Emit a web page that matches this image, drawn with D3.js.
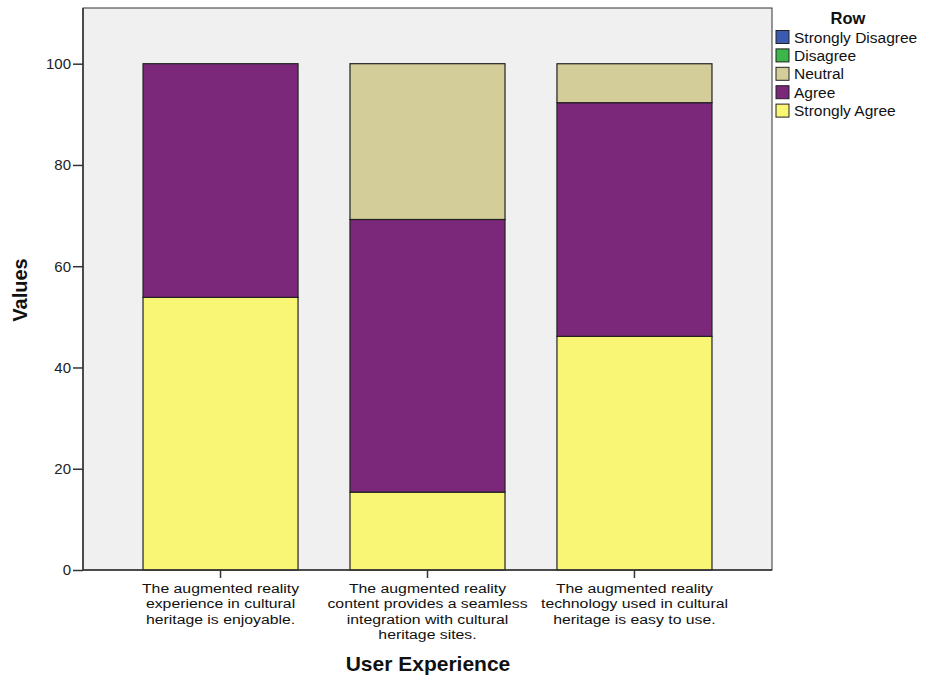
<!DOCTYPE html>
<html>
<head>
<meta charset="utf-8">
<script src="https://cdn.jsdelivr.net/npm/d3@7"></script>
<style>
  body { margin: 0; background: #fff; }
  text { font-family: "Liberation Sans", Arial, sans-serif; }
</style>
</head>
<body>
<svg id="chart" width="925" height="677"></svg>
<script>
// Item statements (x axis), each split into display lines
const categories = [
  "The augmented reality experience in cultural heritage is enjoyable.",
  "The augmented reality content provides a seamless integration with cultural heritage sites.",
  "The augmented reality technology used in cultural heritage is easy to use."
];
const categoryLines = [
  ["The augmented reality", "experience in cultural", "heritage is enjoyable."],
  ["The augmented reality", "content provides a seamless", "integration with cultural", "heritage sites."],
  ["The augmented reality", "technology used in cultural", "heritage is easy to use."]
];
// Response levels, stacked bottom-up as Strongly Agree, Agree, Neutral, Disagree, Strongly Disagree
const levels = ["Strongly Disagree", "Disagree", "Neutral", "Agree", "Strongly Agree"];
const levelColors = ["#3A5BB0", "#3CB54A", "#D3CE99", "#7B287B", "#F9F575"];
// Percentages per level for each item
const stronglyDisagree = [0, 0, 0];
const disagree = [0, 0, 0];
const neutral = [0, 30.77, 7.69];
const agree = [46.15, 53.85, 46.15];
const stronglyAgree = [53.85, 15.38, 46.15];
const yTicks = [0, 20, 40, 60, 80, 100];

const seriesByLevel = {
  "Strongly Disagree": stronglyDisagree,
  "Disagree": disagree,
  "Neutral": neutral,
  "Agree": agree,
  "Strongly Agree": stronglyAgree
};
const stackOrder = ["Strongly Agree", "Agree", "Neutral", "Disagree", "Strongly Disagree"];
const table = categories.map((c, i) => {
  const row = { category: c };
  levels.forEach(l => row[l] = seriesByLevel[l][i]);
  return row;
});
const stacked = d3.stack().keys(stackOrder)(table);
const color = d3.scaleOrdinal().domain(levels).range(levelColors);

const svg = d3.select("#chart");
const plot = { left: 83, top: 8, right: 772, bottom: 570 };

const x = d3.scaleBand().domain(categories)
  .range([plot.left, plot.right]).paddingInner(0.251).paddingOuter(0.29);
const y = d3.scaleLinear().domain([0, 111]).range([plot.bottom, plot.top]);

// plot background
svg.append("rect")
  .attr("x", plot.left).attr("y", plot.top)
  .attr("width", plot.right - plot.left).attr("height", plot.bottom - plot.top)
  .attr("fill", "#F0F0F0").attr("stroke", "#333").attr("stroke-width", 1);

// stacked bars
svg.append("g").selectAll("g").data(stacked).join("g")
  .attr("fill", d => color(d.key))
  .selectAll("rect").data(d => d.filter(p => p[1] - p[0] > 0)).join("rect")
  .attr("x", d => x(d.data.category))
  .attr("y", d => y(d[1]))
  .attr("width", x.bandwidth())
  .attr("height", d => y(d[0]) - y(d[1]))
  .attr("stroke", "#222").attr("stroke-width", 1.2);

// y axis
const yAxis = svg.append("g").attr("transform", `translate(${plot.left},0)`)
  .call(d3.axisLeft(y).tickValues(yTicks).tickSize(10).tickPadding(2));
yAxis.select(".domain").attr("stroke", "#333").attr("stroke-width", 1.5)
  .attr("d", `M0,${plot.top}V${plot.bottom}`);
yAxis.selectAll(".tick line").attr("stroke", "#333").attr("stroke-width", 1.5);
yAxis.selectAll(".tick text").attr("font-size", 15).attr("fill", "#222")
  .attr("font-family", "'Liberation Sans', Arial, sans-serif");

// x axis
const xAxis = svg.append("g").attr("transform", `translate(0,${plot.bottom})`)
  .call(d3.axisBottom(x).tickSize(8).tickFormat(""));
xAxis.select(".domain").attr("stroke", "#333").attr("stroke-width", 1.5)
  .attr("d", `M${plot.left},0H${plot.right}`);
xAxis.selectAll(".tick line").attr("stroke", "#333").attr("stroke-width", 1.5);
xAxis.selectAll(".tick").each(function(d, i) {
  const t = d3.select(this).append("text")
    .attr("transform", "scale(1.17,1)")
    .attr("fill", "#111").attr("font-size", 13.5).attr("text-anchor", "middle");
  categoryLines[i].forEach((line, j) => {
    t.append("tspan").attr("x", 0).attr("y", 23 + j * 15.4).text(line);
  });
});

// axis titles
svg.append("text")
  .attr("transform", "translate(27,290) rotate(-90)")
  .attr("text-anchor", "middle").attr("font-size", 20).attr("font-weight", "bold")
  .attr("fill", "#111").text("Values");
svg.append("text")
  .attr("x", 428).attr("y", 671)
  .attr("text-anchor", "middle").attr("font-size", 21).attr("font-weight", "bold")
  .attr("fill", "#111").text("User Experience");

// legend
const legend = svg.append("g");
legend.append("text").attr("x", 848).attr("y", 24)
  .attr("text-anchor", "middle").attr("font-size", 16.5).attr("font-weight", "bold")
  .attr("fill", "#111").text("Row");
const items = legend.selectAll("g.item").data(levels).join("g")
  .attr("class", "item")
  .attr("transform", (d, i) => `translate(776,${30.5 + i * 18.4})`);
items.append("rect").attr("width", 13).attr("height", 13)
  .attr("fill", d => color(d)).attr("stroke", "#222").attr("stroke-width", 1);
items.append("text").attr("x", 18).attr("y", 12)
  .attr("font-size", 15.5).attr("fill", "#111").text(d => d);
</script>
</body>
</html>
